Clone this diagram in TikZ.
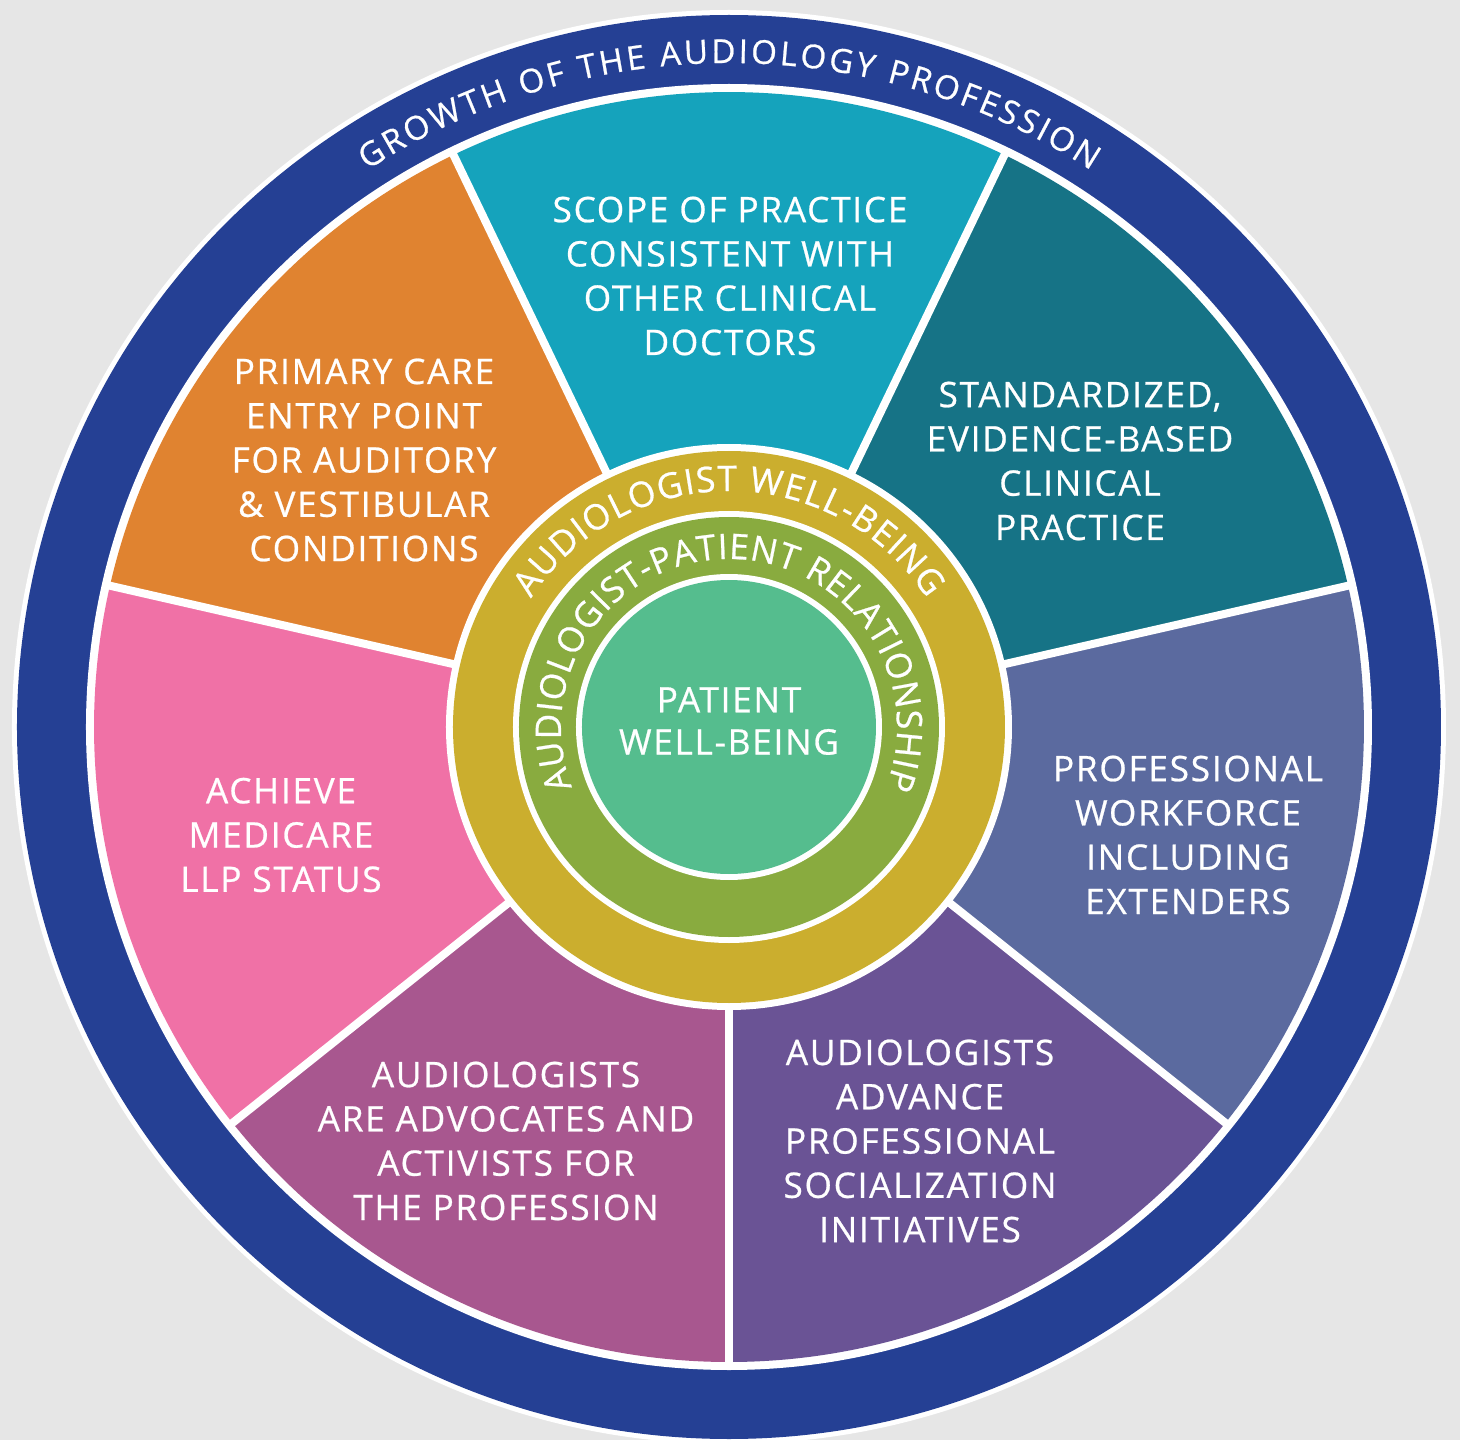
\documentclass[tikz,border=0pt]{standalone}
\usepackage{fontspec}
\setmainfont{Open Sans}[LetterSpace=5,FakeBold=0.7]
\newfontfamily\ringfam{Open Sans}[FakeBold=0.7]
\usetikzlibrary{decorations.text}

\definecolor{bggray}{HTML}{E6E6E6}
\definecolor{ringblue}{HTML}{254094}
\definecolor{scopecol}{HTML}{15A3BC}
\definecolor{standcol}{HTML}{167386}
\definecolor{workcol}{HTML}{5B6A9F}
\definecolor{socialcol}{HTML}{6A5395}
\definecolor{advocol}{HTML}{A8578F}
\definecolor{medicol}{HTML}{F071A6}
\definecolor{primcol}{HTML}{E08330}
\definecolor{wellgold}{HTML}{CBAE2E}
\definecolor{relgreen}{HTML}{89AB3F}
\definecolor{patientcol}{HTML}{55BD8E}

\newcommand\growthfont{\ringfam\fontsize{9.4}{11}\selectfont}
\newcommand\ringfont{\ringfam\fontsize{10}{12}\selectfont}

\tikzstyle{segtext}=[text=white,align=center,font=\fontsize{10}{12.6}\selectfont]
\tikzstyle{segline}=[white,line width=0.08cm]

\begin{document}
\begin{tikzpicture}
\useasboundingbox (-7.29,-7.13) rectangle (7.31,7.27);
\fill[bggray] (-7.29,-7.13) rectangle (7.31,7.27);

\fill[white] (0,0) circle (7.17);
\fill[ringblue] (0,0) circle (7.12);
\fill[white] (0,0) circle (6.43);

\foreach \a/\c in {90/scopecol,38.571/standcol,-12.857/workcol,-64.286/socialcol,-115.714/advocol,-167.143/medicol,141.429/primcol}{
  \fill[\c] (0,0) -- ({\a-25.714}:6.35) arc[start angle={\a-25.714},end angle={\a+25.714},radius=6.35] -- cycle;
}
\foreach \a in {64.286,12.857,-38.571,-90,-141.429,167.143,115.714}{
  \draw[segline] (0,0) -- (\a:6.4);
}

\fill[white] (0,0) circle (2.83);
\fill[wellgold] (0,0) circle (2.76);
\fill[white] (0,0) circle (2.16);
\fill[relgreen] (0,0) circle (2.10);
\fill[white] (0,0) circle (1.53);
\fill[patientcol] (0,0) circle (1.47);

\node[segtext] (scope) at (0.01,4.51) {SCOPE OF PRACTICE\\CONSISTENT WITH\\OTHER CLINICAL\\DOCTORS};
\node[segtext] (standard) at (3.51,2.66) {STANDARDIZED,\\EVIDENCE-BASED\\CLINICAL\\PRACTICE};
\node[segtext] (workforce) at (4.59,-1.08) {PROFESSIONAL\\WORKFORCE\\INCLUDING\\EXTENDERS};
\node[segtext] (socialize) at (1.91,-4.14) {AUDIOLOGISTS\\ADVANCE\\PROFESSIONAL\\SOCIALIZATION\\INITIATIVES};
\node[segtext] (advocate) at (-2.23,-4.14) {AUDIOLOGISTS\\ARE ADVOCATES AND\\ACTIVISTS FOR\\THE PROFESSION};
\node[segtext] (medicare) at (-4.48,-1.08) {ACHIEVE\\MEDICARE\\LLP STATUS};
\node[segtext] (primary) at (-3.65,2.67) {PRIMARY CARE\\ENTRY POINT\\FOR AUDITORY\\\& VESTIBULAR\\CONDITIONS};
\node[segtext,font=\fontsize{10}{12}\selectfont] (patient) at (0,0.06) {PATIENT\\WELL-BEING};

\path[decorate,decoration={text along path,text color=white,text align={fit to path},
  text={|\growthfont|GROWTH OF THE AUDIOLOGY PROFESSION}}]
  (123:6.64) arc[start angle=123,end angle=57,radius=6.64];
\path[decorate,decoration={text along path,text color=white,text align={fit to path},
  text={|\ringfont|AUDIOLOGIST WELL-BEING}}]
  (147:2.36) arc[start angle=147,end angle=33,radius=2.36];
\path[decorate,decoration={text along path,text color=white,text align={fit to path},
  text={|\ringfont|AUDIOLOGIST-PATIENT RELATIONSHIP}}]
  (201:1.68) arc[start angle=201,end angle=-21,radius=1.68];
\end{tikzpicture}
\end{document}
